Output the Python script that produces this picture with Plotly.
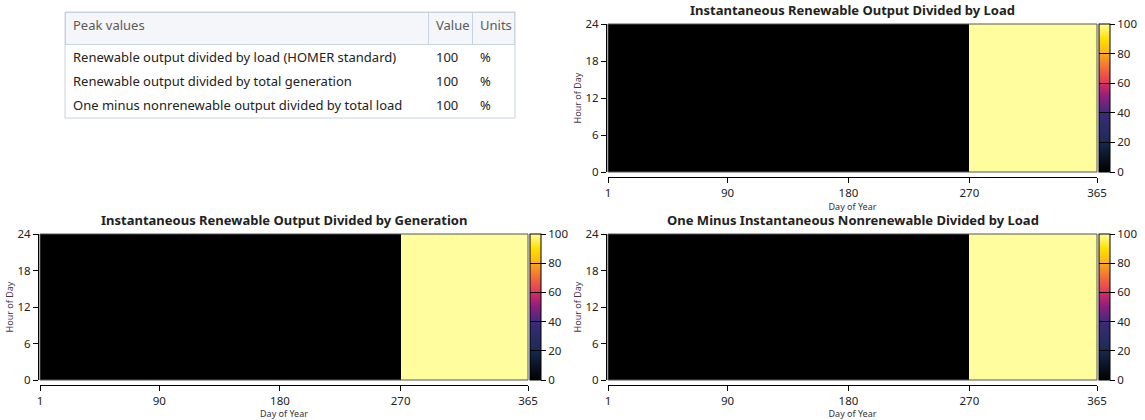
import plotly.graph_objects as go

# ---- data ----
peak_metrics = [
    "Renewable output divided by load (HOMER standard)",
    "Renewable output divided by total generation",
    "One minus nonrenewable output divided by total load",
]
peak_values = [100, 100, 100]
peak_units = ["%", "%", "%"]

# day-of-year segment edges and hour edges for the heatmaps
day_edges = [1, 270, 365]
hour_edges = [0, 24]
load_vals = [0, 100]          # renewable output / load (%)
gen_vals = [0, 100]           # renewable output / generation (%)
nonren_vals = [0, 100]        # one minus nonrenewable / load (%)

x_ticks = [1, 90, 180, 270, 365]
y_ticks = [0, 6, 12, 18, 24]
cb_ticks = [0, 20, 40, 60, 80, 100]

titles = [
    "Instantaneous Renewable Output Divided by Load",
    "Instantaneous Renewable Output Divided by Generation",
    "One Minus Instantaneous Nonrenewable Divided by Load",
]

# ---- style ----
FONT = "Noto Sans"
W, H = 1145, 420
band = 0.004
cs = [
    [0.0, "#000000"], [0.2 - band, "#16284c"], [0.2 - band, "#000000"], [0.2 + band, "#000000"], [0.2 + band, "#1a2c55"],
    [0.4 - band, "#3b2a78"], [0.4 - band, "#000000"], [0.4 + band, "#000000"], [0.4 + band, "#462a80"],
    [0.5, "#8a1f7e"],
    [0.6 - band, "#d42a63"], [0.6 - band, "#000000"], [0.6 + band, "#000000"], [0.6 + band, "#e23a5a"],
    [0.7, "#f36b3a"],
    [0.8 - band, "#f9a51c"], [0.8 - band, "#000000"], [0.8 + band, "#000000"], [0.8 + band, "#fbb51a"],
    [0.9, "#ffe000"], [1.0, "#fffd9e"],
]

def px_x(p):
    return p / W

def px_y(p):
    return 1 - p / H

panels = [
    # (values, x0, x1, ytop, ybottom)
    (load_vals, 608, 1097, 24, 172),
    (gen_vals, 40, 528, 234, 380),
    (nonren_vals, 608, 1097, 234, 380),
]

fig = go.Figure()

# table
fig.add_trace(go.Table(
    domain=dict(x=[px_x(65), px_x(515)], y=[px_y(120), px_y(12)]),
    columnwidth=[363, 44, 42],
    header=dict(
        values=["Peak values", "Value", "Units"],
        fill_color="#f4f6fa",
        line=dict(color="#c8d2e0", width=1),
        font=dict(family=FONT, size=13, color="#5a5a5a"),
        align="left",
        height=32,
    ),
    cells=dict(
        values=[peak_metrics, peak_values, peak_units],
        fill_color="white",
        line=dict(color="white", width=1),
        font=dict(family=FONT, size=13, color="#222222"),
        align="left",
        height=24,
    ),
))

annotations = []
for i, (vals, x0, x1, yt, yb) in enumerate(panels):
    n = "" if i == 0 else str(i + 1)
    xd = [px_x(x0), px_x(x1)]
    yd = [px_y(yb), px_y(yt)]
    fig.add_trace(go.Heatmap(
        x=day_edges, y=hour_edges, z=[vals],
        zmin=0, zmax=100, colorscale=cs,
        xaxis="x" + n, yaxis="y" + n,
        hoverinfo="skip",
        colorbar=dict(
            x=px_x(x1 + 2), xanchor="left", xpad=0, ypad=0,
            y=(yd[0] + yd[1]) / 2, yanchor="middle",
            lenmode="pixels", len=yb - yt,
            thickness=11, outlinecolor="#000000", outlinewidth=1,
            tickvals=cb_ticks, ticks="outside", ticklen=5,
            tickcolor="#000000",
            tickfont=dict(family=FONT, size=11.5, color="#222222"),
        ),
    ))
    fig.update_layout(**{
        "xaxis" + n: dict(
            domain=xd, range=[1, 365], tickvals=x_ticks,
            anchor="free", position=yd[0] - 5 / H,
            showline=True, linecolor="#000000", linewidth=1,
            ticks="outside", ticklen=5, tickcolor="#000000",
            tickfont=dict(family=FONT, size=11.5, color="#222222"),
            title=dict(text="Day of Year", font=dict(family=FONT, size=9, color="#333333"), standoff=0),
            showgrid=False, zeroline=False, fixedrange=True, automargin=False,
        ),
        "yaxis" + n: dict(
            domain=yd, range=[0, 24], tickvals=y_ticks,
            anchor="free", position=xd[0] - 2 / W,
            showline=True, linecolor="#000000", linewidth=1,
            ticks="outside", ticklen=5, tickcolor="#000000",
            tickfont=dict(family=FONT, size=11.5, color="#222222"),
            title=dict(text="Hour of Day", font=dict(family=FONT, size=9, color="#4a3550"), standoff=1),
            showgrid=False, zeroline=False, fixedrange=True, automargin=False,
        ),
    })
    annotations.append(dict(
        text="<b>" + titles[i] + "</b>", x=(xd[0] + xd[1]) / 2, y=yd[1] + 3 / H,
        xref="paper", yref="paper", xanchor="center", yanchor="bottom",
        showarrow=False, font=dict(family=FONT, size=13, color="#222222"),
    ))

shapes = [dict(type="rect", xref="paper", yref="paper",
               x0=px_x(65), x1=px_x(515), y0=px_y(118), y1=px_y(12),
               line=dict(color="#c8d2e0", width=1))]
for i in range(3):
    n = "" if i == 0 else str(i + 1)
    shapes.append(dict(type="rect", xref="x" + n + " domain", yref="y" + n + " domain",
                       x0=0, x1=1, y0=0, y1=1, line=dict(color="#555555", width=1), layer="above"))

fig.update_layout(
    width=W, height=H,
    margin=dict(l=0, r=0, t=0, b=0, pad=0, autoexpand=False),
    paper_bgcolor="white", plot_bgcolor="white",
    showlegend=False,
    annotations=annotations,
    shapes=shapes,
)

fig.write_html("out.html", config={"displayModeBar": False},
               post_script="document.body.style.margin='0';document.body.style.overflow='hidden';")
